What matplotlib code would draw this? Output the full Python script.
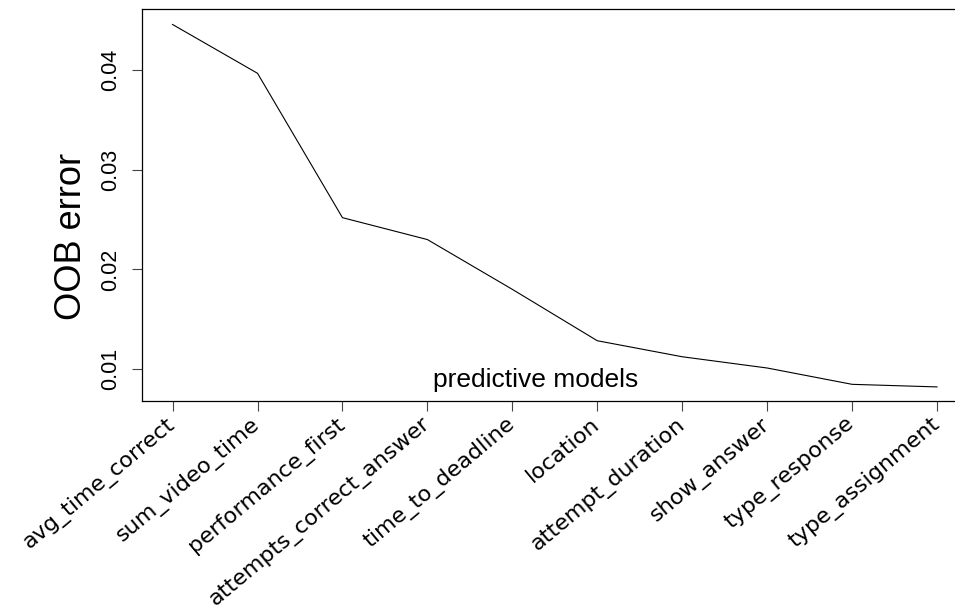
import matplotlib
matplotlib.use("Agg")
import matplotlib.pyplot as plt

# OOB error after dropping features
features = ["avg_time_correct", "sum_video_time", "performance_first",
            "attempts_correct_answer", "time_to_deadline", "location",
            "attempt_duration", "show_answer", "type_response", "type_assignment"]
oob_error = [0.0446, 0.0397, 0.0252, 0.0230, 0.0180, 0.01284,
             0.01123, 0.0101, 0.00846, 0.0082]
y_ticks = [0.01, 0.02, 0.03, 0.04]

W, H = 955, 612
fig = plt.figure(figsize=(W / 100, H / 100), dpi=100)
# box spans px 142..967 horizontally (cut at the right edge), 9..401 vertically
ax = fig.add_axes([142 / W, (H - 401) / H, (967.6 - 142) / W, 392 / H])

x = list(range(1, len(features) + 1))
ax.plot(x, oob_error, color="black", linewidth=0.8)
ax.set_xlim(0.64, 10.36)
ax.set_ylim(0.006786, 0.046157)

ax.set_yticks(y_ticks)
ax.set_yticklabels([f"{v:.2f}" for v in y_ticks], rotation=90, va="center",
                   fontsize=15.5, family="Liberation Sans")
ax.set_xticks(x)
ax.set_xticklabels(features, rotation=40, ha="right", va="center",
                   rotation_mode="anchor", fontsize=16, family="DejaVu Sans")
ax.tick_params(axis="both", direction="out", length=7, width=0.8, color="#444444")
ax.tick_params(axis="y", pad=8)
ax.tick_params(axis="x", pad=8)
for s in ax.spines.values():
    s.set_linewidth(0.9)

ax.text(0.477, 0.036, "predictive models", transform=ax.transAxes, ha="center",
        va="baseline", fontsize=19, family="Liberation Sans")
fig.text(71 / W, 1 - 236 / H, "OOB error", rotation=90, ha="center", va="center",
         fontsize=26, family="Liberation Sans")

fig.savefig("out.png", dpi=100)
